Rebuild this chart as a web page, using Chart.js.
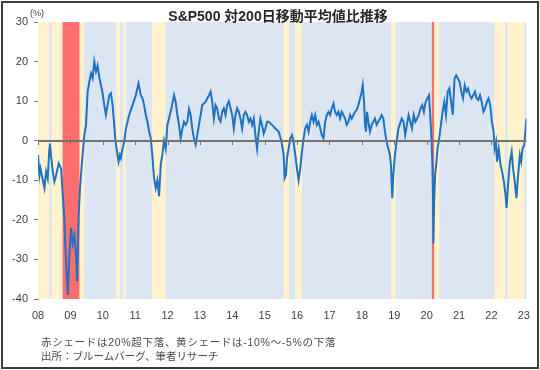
<!DOCTYPE html>
<html>
<head>
<meta charset="utf-8">
<script src="https://cdn.jsdelivr.net/npm/chart.js@4"></script>
<style>
body { margin: 0; background: #fff; }
#wrap { position: relative; width: 540px; height: 370px; overflow: hidden; font-family: "Liberation Sans", "Noto Sans CJK JP", sans-serif; }
#chart { position: absolute; left: 0; top: 0; }
#frame { position: absolute; left: 1px; top: 1px; width: 534px; height: 364px; border: 2px solid #3b3f3b; pointer-events: none; }
.txt { position: absolute; white-space: nowrap; color: #404040; }
#title { left: 278px; top: 9px; transform: translateX(-50%); font-size: 14px; font-weight: bold; color: #262626; line-height: 15px; }
#unit { left: 30px; top: 8px; font-size: 9px; line-height: 10px; }
#note1 { left: 41px; top: 336px; font-size: 10.5px; line-height: 12px; letter-spacing: 0.7px; color: #4a4a4a; }
#note2 { left: 41px; top: 350px; font-size: 10.5px; line-height: 12px; color: #4a4a4a; }
</style>
</head>
<body>
<div id="wrap">
  <canvas id="chart" width="540" height="370"></canvas>
  <div id="frame"></div>
  <div class="txt" id="title">S&amp;P500 対200日移動平均値比推移</div>
  <div class="txt" id="unit">(%)</div>
  <div class="txt" id="note1">赤シェードは20%超下落、黄シェードは-10%～-5%の下落</div>
  <div class="txt" id="note2">出所：ブルームバーグ、筆者リサーチ</div>
</div>
<script>
// x = year (decimal), y = % vs 200-day moving average
const dates = [
  2008.000, 2008.046, 2008.077, 2008.149, 2008.200, 2008.250, 2008.300, 2008.350, 2008.365, 2008.400,
  2008.456, 2008.507, 2008.559, 2008.640, 2008.713, 2008.764, 2008.815, 2008.846, 2008.887, 2008.918,
  2008.970, 2009.021, 2009.072, 2009.123, 2009.174, 2009.205, 2009.256, 2009.297, 2009.359, 2009.430,
  2009.482, 2009.533, 2009.585, 2009.636, 2009.687, 2009.738, 2009.790, 2009.841, 2009.892, 2009.944,
  2009.995, 2010.046, 2010.097, 2010.149, 2010.200, 2010.251, 2010.303, 2010.354, 2010.385, 2010.426,
  2010.487, 2010.528, 2010.559, 2010.610, 2010.662, 2010.713, 2010.815, 2010.918, 2011.021, 2011.103,
  2011.174, 2011.226, 2011.277, 2011.328, 2011.380, 2011.431, 2011.482, 2011.533, 2011.584, 2011.636,
  2011.687, 2011.738, 2011.790, 2011.840, 2011.892, 2011.943, 2011.995, 2012.097, 2012.200, 2012.251,
  2012.303, 2012.354, 2012.405, 2012.456, 2012.508, 2012.559, 2012.610, 2012.662, 2012.713, 2012.764,
  2012.815, 2012.867, 2012.918, 2012.969, 2013.021, 2013.072, 2013.174, 2013.277, 2013.328, 2013.379,
  2013.431, 2013.482, 2013.533, 2013.585, 2013.636, 2013.687, 2013.738, 2013.790, 2013.841, 2013.892,
  2013.944, 2013.995, 2014.046, 2014.097, 2014.149, 2014.200, 2014.251, 2014.303, 2014.354, 2014.405,
  2014.456, 2014.508, 2014.559, 2014.610, 2014.662, 2014.713, 2014.764, 2014.815, 2014.867, 2014.918,
  2014.969, 2015.021, 2015.072, 2015.123, 2015.226, 2015.328, 2015.431, 2015.513, 2015.585, 2015.615,
  2015.656, 2015.687, 2015.738, 2015.790, 2015.841, 2015.892, 2015.944, 2015.995, 2016.046, 2016.097,
  2016.149, 2016.200, 2016.251, 2016.303, 2016.354, 2016.405, 2016.456, 2016.508, 2016.559, 2016.610,
  2016.662, 2016.713, 2016.764, 2016.815, 2016.867, 2016.918, 2016.969, 2017.021, 2017.072, 2017.123,
  2017.174, 2017.226, 2017.277, 2017.328, 2017.379, 2017.431, 2017.482, 2017.533, 2017.585, 2017.636,
  2017.687, 2017.738, 2017.790, 2017.841, 2017.892, 2017.944, 2017.995, 2018.026, 2018.067, 2018.097,
  2018.128, 2018.159, 2018.200, 2018.251, 2018.303, 2018.354, 2018.405, 2018.456, 2018.508, 2018.559,
  2018.610, 2018.662, 2018.713, 2018.764, 2018.815, 2018.867, 2018.897, 2018.938, 2018.969, 2019.021,
  2019.072, 2019.126, 2019.230, 2019.284, 2019.337, 2019.389, 2019.442, 2019.494, 2019.547, 2019.600,
  2019.652, 2019.704, 2019.757, 2019.810, 2019.862, 2019.914, 2019.967, 2020.020, 2020.072, 2020.103,
  2020.145, 2020.177, 2020.198, 2020.208, 2020.230, 2020.260, 2020.303, 2020.334, 2020.387, 2020.440,
  2020.492, 2020.545, 2020.597, 2020.650, 2020.702, 2020.755, 2020.807, 2020.860, 2020.912, 2020.965,
  2021.017, 2021.070, 2021.122, 2021.175, 2021.227, 2021.280, 2021.332, 2021.385, 2021.437, 2021.490,
  2021.542, 2021.595, 2021.647, 2021.700, 2021.752, 2021.805, 2021.857, 2021.910, 2021.962, 2022.015,
  2022.067, 2022.099, 2022.141, 2022.173, 2022.225, 2022.278, 2022.330, 2022.383, 2022.435, 2022.467,
  2022.520, 2022.572, 2022.625, 2022.667, 2022.720, 2022.772, 2022.824, 2022.877, 2022.919, 2022.960,
  2023.013, 2023.050, 2023.080
];
const deviation = [
  -3.6, -8.7, -7, -10, -12, -7.8, -9.5, -2, -0.7, -3.6,
  -7.8, -10.3, -8.7, -5.7, -7, -13.7, -20, -27, -34, -39,
  -29, -22, -26, -24, -29, -35.5, -18.7, -12, -5.3, 1.4,
  4, 12.4, 14.9, 17, 15.8, 20, 17.5, 19, 16, 14,
  12, 9, 6.5, 9, 11.5, 12, 9, 4, 0.6, -2,
  -5.3, -3.6, -4.4, -2, -0.3, 3, 6.5, 9, 11.5, 14.5,
  11.5, 10.7, 9, 6.5, 4.8, 2.3, 0.6, -4, -9.5, -12,
  -10, -14, -6, -3.6, 0, -2, 4, 7.3, 11.5, 9.8,
  6.5, 4, 0.6, 3, 4.8, 4, 4.8, 8, 6.5, 3,
  0.6, -1, 1.4, 4, 6.5, 9, 9.8, 11.5, 12.4, 9.8,
  5.6, 9, 8.2, 5.6, 4.8, 7.3, 8.2, 6.5, 9, 10,
  8.2, 6.5, 3.1, 6.5, 8.2, 7.3, 5.6, 3.1, 6.5, 7.3,
  6.5, 4.8, 5.6, 4, 5.6, 1.4, -2, 2.3, 5.6, 4,
  1.8, 3, 4.8, 4.8, 4, 3.1, 2.3, 0, -3.6, -9.5,
  -8.7, -4.4, -2, 0.6, 1.4, -0.3, -3.6, -7, -10, -7,
  -2.8, 0.6, 3.1, 4, 2.3, 4.8, 6.5, 4.8, 6.5, 4,
  4.8, 3.1, 1.4, 0.6, 4.8, 6.5, 7.3, 6.5, 8.2, 9.4,
  7.3, 6.5, 7.3, 5.6, 7.3, 6.5, 5.6, 4, 4.8, 6.5,
  5.6, 6.5, 7.3, 7.8, 9, 10.7, 12.4, 14, 9.8, 4,
  2.3, 7.3, 4.8, 2.3, 4, 4.8, 5.6, 4, 4.8, 5.6,
  6.5, 5.6, 2.3, -0.3, -2, -3.6, -6, -14.5, -8.7, -3.6,
  -0.3, 3, 5.6, 4.8, 1.4, 4, 6.5, 4.8, 3.1, 6.5,
  4.8, 5.6, 6.5, 8.2, 9, 7.3, 9.8, 10.7, 11.5, 7.3,
  1.4, -6, -14.5, -26, -15.6, -8.7, -5.3, -2, 0.6, 4,
  7.3, 9.8, 6.5, 12.4, 13.2, 9.8, 6.5, 15.7, 16.5, 15.7,
  14.9, 12.4, 10.7, 14, 12.4, 13.2, 11.5, 10.7, 11.5, 12.4,
  10.7, 10.3, 11.5, 9.8, 7.3, 8.2, 9.8, 10.7, 9, 4.8,
  2.3, -2, -0.3, -5.3, -2, -6, -7.8, -10.3, -13.7, -17,
  -10.3, -5.3, -2.8, -7, -10.3, -14.5, -8.7, -3.6, -5.3, -2,
  -1.1, 2.5, 5.6
];
const yearLabels = ['08','09','10','11','12','13','14','15','16','17','18','19','20','21','22','23'];
// shaded periods [start, end]
const yellowBands = [
  [2008.0, 2008.35], [2008.42, 2008.76], [2009.28, 2009.43], [2010.42, 2010.53], [2010.63, 2010.71],
  [2011.53, 2011.94], [2015.58, 2015.76], [2015.94, 2016.15], [2018.9, 2019.04], [2020.23, 2020.39],
  [2022.09, 2022.42], [2022.5, 2023.02]
];
const redBands = [[2008.76, 2009.28], [2020.16, 2020.23]];

const shading = {
  id: 'shading',
  beforeDatasetsDraw(chart) {
    const { ctx, chartArea: a, scales: { x } } = chart;
    ctx.save();
    ctx.fillStyle = '#dce6f2';
    ctx.fillRect(a.left, a.top, a.right - a.left, a.bottom - a.top);
    const band = (list, color) => {
      ctx.fillStyle = color;
      list.forEach(b => {
        const x0 = x.getPixelForValue(b[0]);
        const x1 = x.getPixelForValue(b[1]);
        ctx.fillRect(x0, a.top, x1 - x0, a.bottom - a.top);
      });
    };
    band(yellowBands, '#fff2cc');
    band(redBands, '#ff6e6e');
    ctx.restore();
  },
  afterDatasetsDraw(chart) {
    const { ctx, chartArea: a, scales: { x, y } } = chart;
    const y0 = Math.round(y.getPixelForValue(0));
    ctx.save();
    ctx.strokeStyle = '#737373';
    ctx.lineWidth = 2;
    ctx.beginPath();
    ctx.moveTo(a.left, y0);
    ctx.lineTo(a.right, y0);
    ctx.stroke();
    ctx.lineWidth = 1;
    yearLabels.forEach((l, i) => {
      const px = Math.round(x.getPixelForValue(2008 + i)) + 0.5;
      ctx.beginPath();
      ctx.moveTo(px, y0);
      ctx.lineTo(px, y0 + 4);
      ctx.stroke();
    });
    ctx.restore();
  }
};

const ctx = document.getElementById('chart').getContext('2d');
new Chart(ctx, {
  type: 'line',
  data: {
    datasets: [{
      data: dates.map((d, i) => ({ x: d, y: deviation[i] })),
      borderColor: '#1f72c2',
      borderWidth: 2,
      pointRadius: 0,
      tension: 0
    }]
  },
  options: {
    responsive: false,
    animation: false,
    layout: { padding: { left: 0, right: 11, top: 22, bottom: 47 } },
    plugins: { legend: { display: false }, tooltip: { enabled: false } },
    scales: {
      x: {
        type: 'linear',
        min: 2008,
        max: 2023.08,
        grid: { display: false, drawTicks: false },
        border: { display: false },
        ticks: {
          stepSize: 1,
          includeBounds: false,
          autoSkip: false,
          maxRotation: 0,
          padding: 10,
          color: '#404040',
          font: { family: 'Liberation Sans', size: 11 },
          callback: v => yearLabels[Math.round(v) - 2008]
        },
        afterFit(s) { s.height = 24; }
      },
      y: {
        min: -40,
        max: 30,
        grid: { drawOnChartArea: false, drawTicks: true, tickLength: 4, color: '#7a7a7a' },
        border: { display: true, color: '#7a7a7a', width: 1 },
        ticks: {
          stepSize: 10,
          padding: 6,
          color: '#404040',
          font: { family: 'Liberation Sans', size: 11 }
        },
        afterFit(s) { s.width = 38; }
      }
    }
  },
  plugins: [shading]
});
</script>
</body>
</html>
